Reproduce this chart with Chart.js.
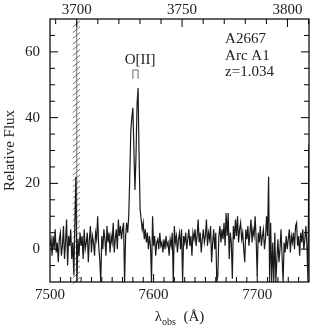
<!DOCTYPE html>
<html>
<head>
<meta charset="utf-8">
<script src="https://cdn.jsdelivr.net/npm/chart.js@4.4.1/dist/chart.umd.min.js"></script>
<style>
html, body { margin: 0; padding: 0; background: #fff; }
#wrap { width: 327px; height: 327px; }
</style>
</head>
<body>
<div id="wrap"><canvas id="spec"></canvas></div>
<script>
// observed wavelength grid (Angstrom): first sample and sampling step
var lambdaStart = 7500;
var lambdaStep = 1;
var redshift = 1.034;

// relative flux, one value per Angstrom from 7500 to 7750
var flux = [
    1, 3, -2, 4, 0, 6, -1, 2, -4, 3,
    5, -2, 1, 7, -3, 2, 9, -5, 4, 1,
    6, -3, 2, -8, 8, 22, -10, 3, -2, 5,
    1, 4, -3, 6, 0, 2, 5, -4, 3, 7,
    -1, 4, 2, -2, 5, 3, 10, 1, -3, -10,
    4, 0, 6, 3, -2, 7, 2, 5, -1, 4,
    2, 8, -1, 3, 6, 0, 9, 4, 7, 3,
    6, 8, -10, 4, 8, 5, 10, 22, 36, 40,
    43, 30, 18, 28, 44, 49, 28, 12, 9, 6,
    8, 3, 6, 2, 5, 0, 4, 1, -10, 10,
    1, 4, -2, 2, 3, 0, 5, 1, 2, -1,
    3, 0, 4, 1, 2, -2, 3, 1, 5, -10,
    7, 2, 4, -1, 3, 5, 0, 6, -10, 4,
    2, 5, 0, 3, 6, 1, 4, -2, 5, 3,
    6, 1, 4, 9, 2, 5, -1, 3, 6, 2,
    4, 9, 1, 5, 3, 7, -4, 2, 6, 0,
    5, -10, -8, 4, 7, 2, 6, 3, 8, 1,
    11, 4, 11, -3, 5, 2, -9, 7, 3, 9,
    4, 10, 2, 6, 8, 3, 5, 0, -4, 6,
    3, 7, 1, 5, 9, 2, 6, 4, 10, 3,
    -8, 5, 2, 7, 1, 4, 6, 0, 3, 10,
    4, 22, -10, 8, -10, 2, -10, 5, -10, -3,
    3, -4, 0, 6, -2, -10, 2, -1, 4, 0,
    3, 6, -1, 4, 2, 5, 0, 7, 8, 1,
    4, -2, 5, 2, 6, 0, 3, 7, 1, -10,
    32
];

var obsTicks = [7500, 7600, 7700];
var restTicks = [3700, 3750, 3800];
var fluxTicks = [0, 20, 40, 60];
var skyMask = [7522, 7529];     // hatched sky-line region (observed A)
var oiiDoublet = [7580, 7585];  // O[II] marker legs (observed A)
var infoLines = ['A2667', 'Arc A1', 'z=1.034'];

var serif = "'Liberation Serif', 'DejaVu Serif', serif";
var ink = '#222';

var points = flux.map(function(v, i) {
    return { x: lambdaStart + i * lambdaStep, y: v };
});

function plainLabel(v) { return String(v); }

// hatched mask behind the spectrum
var maskPlugin = {
    id: 'mask',
    beforeDatasetsDraw: function(chart) {
        var ctx = chart.ctx, a = chart.chartArea, xs = chart.scales.x;
        var m0 = xs.getPixelForValue(skyMask[0]);
        var m1 = xs.getPixelForValue(skyMask[1]);
        var mid = xs.getPixelForValue(3700 * (1 + redshift));
        ctx.save();
        ctx.strokeStyle = '#555';
        ctx.lineWidth = 0.8;
        ctx.beginPath();
        ctx.moveTo(mid, a.top);
        ctx.lineTo(mid, a.bottom);
        for (var yy = a.top + 5; yy < a.bottom; yy += 5.7) {
            ctx.moveTo(m0, yy + 3);
            ctx.lineTo(m1, yy - 3);
        }
        ctx.stroke();
        ctx.restore();
    }
};

// frame, inward ticks and the text labels
var framePlugin = {
    id: 'frame',
    afterDraw: function(chart) {
        var ctx = chart.ctx, a = chart.chartArea;
        var xs = chart.scales.x, xt = chart.scales.x2, ys = chart.scales.y;
        var v, p, len;
        ctx.save();
        ctx.strokeStyle = '#000';
        ctx.lineWidth = 1.2;
        ctx.strokeRect(a.left, a.top, a.right - a.left, a.bottom - a.top);

        ctx.lineWidth = 1;
        ctx.beginPath();
        for (v = 7510; v < 7750; v += 10) {
            p = xs.getPixelForValue(v);
            len = obsTicks.indexOf(v) >= 0 ? 8 : 5;
            ctx.moveTo(p, a.bottom); ctx.lineTo(p, a.bottom - len);
        }
        for (v = 3690; v <= 3810; v += 10) {
            p = xt.getPixelForValue(v);
            if (p <= a.left || p >= a.right) continue;
            len = restTicks.indexOf(v) >= 0 ? 8 : 5;
            ctx.moveTo(p, a.top); ctx.lineTo(p, a.top + len);
        }
        for (v = -5; v < 70; v += 5) {
            p = ys.getPixelForValue(v);
            len = fluxTicks.indexOf(v) >= 0 ? 8 : 5;
            ctx.moveTo(a.left, p); ctx.lineTo(a.left + len, p);
            ctx.moveTo(a.right, p); ctx.lineTo(a.right - len, p);
        }
        ctx.stroke();

        // O[II] marker
        var b0 = xs.getPixelForValue(oiiDoublet[0]);
        var b1 = xs.getPixelForValue(oiiDoublet[1]);
        ctx.strokeStyle = '#666';
        ctx.beginPath();
        ctx.moveTo(b0, ys.getPixelForValue(51.8));
        ctx.lineTo(b0, ys.getPixelForValue(54.5));
        ctx.lineTo(b1, ys.getPixelForValue(54.5));
        ctx.lineTo(b1, ys.getPixelForValue(51.8));
        ctx.stroke();

        ctx.fillStyle = ink;
        ctx.font = '15px ' + serif;
        ctx.textAlign = 'center';
        ctx.textBaseline = 'middle';
        ctx.fillText('O[II]', xs.getPixelForValue(7587), ys.getPixelForValue(57.6));

        ctx.textAlign = 'left';
        infoLines.forEach(function(t, i) {
            ctx.fillText(t, xs.getPixelForValue(7669), ys.getPixelForValue(63.8 - i * 5));
        });

        // x axis title with subscript
        var cx = (a.left + a.right) / 2, ty = a.bottom + 34;
        ctx.font = '15px ' + serif;
        var w1 = ctx.measureText('\u03bb').width;
        var w3 = ctx.measureText('  (\u00c5)').width;
        ctx.font = '10px ' + serif;
        var w2 = ctx.measureText('obs').width;
        var x0 = cx - (w1 + w2 + w3) / 2;
        ctx.textAlign = 'left';
        ctx.textBaseline = 'alphabetic';
        ctx.font = '15px ' + serif;
        ctx.fillText('\u03bb', x0, ty + 5);
        ctx.font = '10px ' + serif;
        ctx.fillText('obs', x0 + w1, ty + 9);
        ctx.font = '15px ' + serif;
        ctx.fillText('  (\u00c5)', x0 + w1 + w2, ty + 5);
        ctx.restore();
    }
};

var ctx = document.getElementById('spec').getContext('2d');
var chart = new Chart(ctx, {
    type: 'line',
    data: {
        datasets: [{
            data: points,
            borderColor: '#1a1a1a',
            borderWidth: 1.2,
            pointRadius: 0,
            tension: 0,
            fill: false
        }]
    },
    options: {
        responsive: true,
        maintainAspectRatio: false,
        animation: false,
        layout: { padding: { left: 0, right: 18, top: 0, bottom: 0 } },
        plugins: { legend: { display: false }, tooltip: { enabled: false } },
        scales: {
            x: {
                type: 'linear',
                position: 'bottom',
                min: 7500,
                max: 7750,
                grid: { display: false, drawTicks: false },
                border: { display: false },
                afterBuildTicks: function(s) { s.ticks = obsTicks.map(function(v) { return { value: v }; }); },
                afterFit: function(s) { s.height = 45; },
                ticks: { font: { family: serif, size: 15 }, color: ink, padding: 4, maxRotation: 0, callback: plainLabel }
            },
            x2: {
                type: 'linear',
                position: 'top',
                min: 7500 / (1 + redshift),
                max: 7750 / (1 + redshift),
                grid: { display: false, drawTicks: false },
                border: { display: false },
                afterBuildTicks: function(s) { s.ticks = restTicks.map(function(v) { return { value: v }; }); },
                afterFit: function(s) { s.height = 18; },
                ticks: { font: { family: serif, size: 15 }, color: ink, padding: 0, maxRotation: 0, callback: plainLabel }
            },
            y: {
                type: 'linear',
                min: -10,
                max: 70,
                grid: { display: false, drawTicks: false },
                border: { display: false },
                afterBuildTicks: function(s) { s.ticks = fluxTicks.map(function(v) { return { value: v }; }); },
                afterFit: function(s) { s.width = 50; },
                ticks: { font: { family: serif, size: 15 }, color: ink, padding: 10, callback: plainLabel },
                title: {
                    display: true,
                    text: 'Relative Flux',
                    font: { family: serif, size: 15 },
                    color: ink,
                    padding: { top: 1, bottom: 0 }
                }
            }
        }
    },
    plugins: [maskPlugin, framePlugin]
});
</script>
</body>
</html>
